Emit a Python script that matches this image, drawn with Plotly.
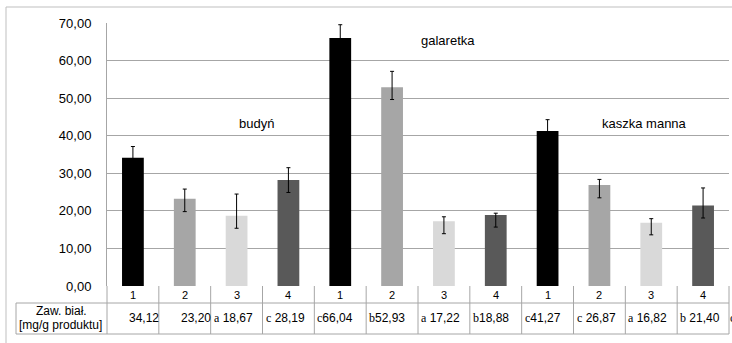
import plotly.graph_objects as go

# Protein content per product group and sample
groups = ["budyń", "galaretka", "kaszka manna"]
samples = ["1", "2", "3", "4"]
budyn = [34.12, 23.20, 18.67, 28.19]
galaretka = [66.04, 52.93, 17.22, 18.88]
kaszka = [41.27, 26.87, 16.82, 21.40]
# significance letters shown in front of each value in the table
prefixes = ["", "", "a ", "c ", "c", "b", "a ", "b", "c", "c ", "a ", "b "]
err_plus = [3.0, 2.6, 5.8, 3.3, 3.5, 4.2, 1.2, 0.5, 3.0, 1.5, 1.1, 4.7]
err_minus = [3.0, 3.4, 3.3, 3.3, 3.5, 3.3, 3.3, 3.2, 3.0, 3.4, 3.2, 3.3]
row_label = ["Zaw. biał.", "[mg/g produktu]"]

values = budyn + galaretka + kaszka
labels = samples * len(groups)
n = len(values)
xs = list(range(n))
sample_colors = ["#000000", "#A6A6A6", "#D9D9D9", "#595959"]
colors = [sample_colors[i % 4] for i in range(n)]

W, H = 732, 343
ML, MR, MT, MB = 107, 3, 23, 57
PW, PH = W - ML - MR, H - MT - MB


def px(xp):
    return (xp - ML) / PW


def py(yp):
    return (H - MB - yp) / PH


SANS = "Liberation Sans"
SERIF = "Liberation Serif"

fig = go.Figure()
fig.add_trace(go.Bar(
    x=xs, y=values, width=0.42,
    marker=dict(color=colors, line=dict(width=0)),
    error_y=dict(type="data", symmetric=False, array=err_plus, arrayminus=err_minus,
                 color="#000000", thickness=1, width=2),
    showlegend=False, hoverinfo="skip",
))

shapes = []
line_col = "#A6A6A6"
# outer chart frame (top and left edges)
shapes.append(dict(type="line", xref="paper", yref="paper", x0=px(6), x1=px(732),
                   y0=py(7), y1=py(7), line=dict(color="#BFBFBF", width=1)))
shapes.append(dict(type="line", xref="paper", yref="paper", x0=px(6), x1=px(6),
                   y0=py(7), y1=py(343), line=dict(color="#BFBFBF", width=1)))
# data table grid
for i in range(n + 1):
    shapes.append(dict(type="line", xref="paper", yref="paper", x0=i / n, x1=i / n,
                       y0=py(286), y1=py(334), line=dict(color=line_col, width=1)))
shapes.append(dict(type="line", xref="paper", yref="paper", x0=px(16), x1=1,
                   y0=py(303), y1=py(303), line=dict(color=line_col, width=1)))
shapes.append(dict(type="line", xref="paper", yref="paper", x0=px(16), x1=1,
                   y0=py(334), y1=py(334), line=dict(color=line_col, width=1)))
shapes.append(dict(type="line", xref="paper", yref="paper", x0=px(16), x1=px(16),
                   y0=py(303), y1=py(334), line=dict(color=line_col, width=1)))

annotations = []
# sample numbers row
for i in range(n):
    annotations.append(dict(x=i, xref="x", y=py(295), yref="paper", text=labels[i],
                            showarrow=False, font=dict(family=SANS, size=11, color="#000"),
                            xanchor="center", yanchor="middle"))
# values row with significance letters
for i in range(n):
    num = f"{values[i]:.2f}".replace(".", ",")
    if prefixes[i]:
        letter = prefixes[i].strip()
        gap = " " if prefixes[i].endswith(" ") else ""
        txt = (f"<span style='font-family:{SERIF};font-size:12px'>{letter}</span>"
               f"{gap}{num}")
        shift = 1
    else:
        txt = num
        shift = 20
    annotations.append(dict(x=i - 0.5, xref="x", y=py(318), yref="paper", text=txt,
                            showarrow=False, xshift=shift,
                            font=dict(family=SANS, size=12, color="#000"),
                            xanchor="left", yanchor="middle"))
# trailing letter clipped at the page edge
annotations.append(dict(x=px(728), xref="paper", y=py(318), yref="paper",
                        text=f"<span style='font-family:{SERIF}'>c</span>",
                        showarrow=False, font=dict(family=SERIF, size=12, color="#000"),
                        xanchor="left", yanchor="middle"))
# row header
annotations.append(dict(x=px(61), xref="paper", y=py(311), yref="paper", text=row_label[0],
                        showarrow=False, font=dict(family=SANS, size=12, color="#000"),
                        xanchor="center", yanchor="middle"))
annotations.append(dict(x=px(60), xref="paper", y=py(325), yref="paper", text=row_label[1],
                        showarrow=False, font=dict(family=SANS, size=12, color="#000"),
                        xanchor="center", yanchor="middle"))
# product group captions
group_pos = [(256, 123), (448, 40), (644, 124)]
for g, (gx, gy) in zip(groups, group_pos):
    annotations.append(dict(x=px(gx), xref="paper", y=py(gy), yref="paper", text=g,
                            showarrow=False, font=dict(family=SANS, size=13, color="#000"),
                            xanchor="center", yanchor="middle"))

fig.update_layout(
    width=W, height=H,
    margin=dict(l=ML, r=MR, t=MT, b=MB, pad=0),
    paper_bgcolor="white", plot_bgcolor="white",
    separators=", ",
    shapes=shapes, annotations=annotations,
    bargap=0.58,
    xaxis=dict(range=[-0.5, n - 0.5], showticklabels=False, showgrid=False,
               zeroline=False, showline=False, ticks=""),
    yaxis=dict(range=[0, 70], dtick=10, tickformat=".2f", showgrid=True,
               gridcolor="#A6A6A6", gridwidth=1, zeroline=False,
               showline=True, linecolor="#A6A6A6", linewidth=1,
               ticks="", ticklabelstandoff=12,
               tickfont=dict(family=SANS, size=13, color="#000")),
)

fig.write_html("out.html")
